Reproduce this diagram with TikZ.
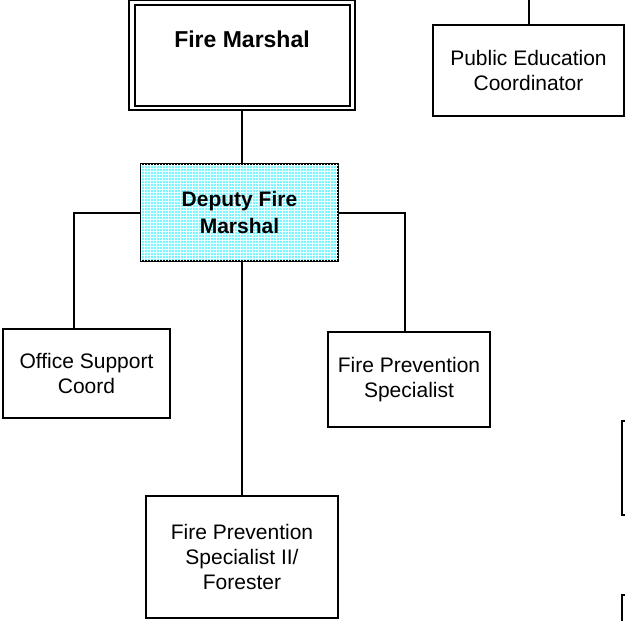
\documentclass[tikz,border=0pt]{standalone}
\usepackage{fontspec}
\setmainfont{Liberation Sans}
\usetikzlibrary{patterns}
\definecolor{depcyan}{RGB}{125,245,255}
\begin{document}
\begin{tikzpicture}[x=1pt,y=-1pt,
  box/.style={draw, line width=2pt, inner sep=0pt, align=center, font=\fontsize{21}{25}\selectfont},
  conn/.style={line width=2pt},
]
\useasboundingbox (0,0) rectangle (625,621);
\clip (0,0) rectangle (625,621);
\fill[white] (0,0) rectangle (625,621);

% Fire Marshal (double border)
\node[draw, line width=1.3pt, inner sep=0pt, minimum width=226pt, minimum height=109.5pt] (fmout) at (242,55.25) {};
\node[draw, line width=2pt, inner sep=0pt, minimum width=214.5pt, minimum height=101pt] (fm) at (242.25,55.5) {};
\node[anchor=base, inner sep=0pt, font=\fontsize{23}{27}\selectfont\bfseries] (fmtext) at (242,47) {Fire Marshal};

% Public Education Coordinator
\node[box, minimum width=191pt, minimum height=91pt] (pe) at (528.5,70.5) {Public Education\\Coordinator};
\coordinate (petop) at (528.5,0);

% Deputy Fire Marshal
\node[box, fill=depcyan, postaction={pattern=grid, pattern color=white!85!depcyan},
      minimum width=197pt, minimum height=96.5pt,
      font=\fontsize{21}{26.5}\selectfont\bfseries] (dep) at (239.5,212.5) {Deputy Fire\\Marshal};

% Office Support Coord
\node[box, minimum width=167pt, minimum height=89pt] (off) at (86.5,373.5) {Office Support\\Coord};
\coordinate (offtop) at (74,329);

% Fire Prevention Specialist
\node[box, minimum width=162pt, minimum height=95pt] (fps) at (409,379.5) {Fire Prevention\\Specialist};
\coordinate (fpstop) at (405,332);

% Fire Prevention Specialist II / Forester
\node[box, minimum width=192pt, minimum height=122pt] (fps2) at (242,557) {Fire Prevention\\Specialist II/\\Forester};

% partial boxes at right edge
\node[box, minimum width=80pt, minimum height=94pt] (partA) at (662,468) {};
\node[box, minimum width=80pt, minimum height=100pt] (partB) at (662,645) {};

% connectors
\draw[conn] (pe.north) -- (petop);
\draw[conn] (fmout.south) -- (fmout.south |- dep.north);
\draw[conn] (dep.west) -| (offtop);
\draw[conn] (dep.east) -| (fpstop);
\draw[conn] (fps2.north |- dep.south) -- (fps2.north);
\end{tikzpicture}
\end{document}
